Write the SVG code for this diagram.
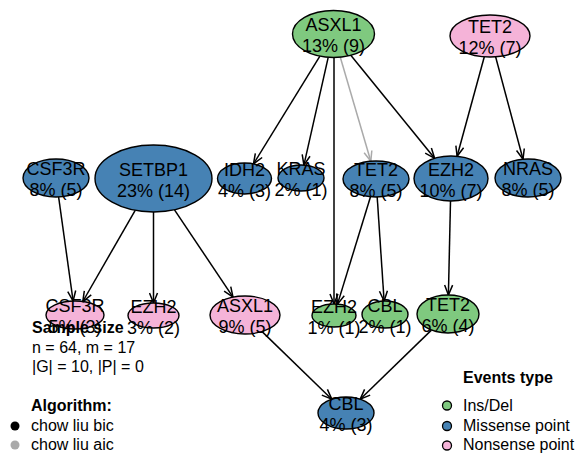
<svg xmlns="http://www.w3.org/2000/svg" width="577" height="455" viewBox="0 0 577 455">
<style>
.n ellipse{stroke:#000;stroke-width:1.4}
.g{fill:#7FC97F}.b{fill:#4682B4}.p{fill:#F5B3D8}
.n text{font-family:"Liberation Sans",Arial,sans-serif;font-size:18px;fill:#000;text-anchor:middle}
.e line{stroke:#000;stroke-width:1.5;fill:none;marker-end:url(#ab)}
.e line.gr{stroke:#AAAAAA;marker-end:url(#ag)}
.lg text{font-family:"Liberation Sans",Arial,sans-serif;font-size:16px;fill:#000}
.lg .t{font-weight:bold}
</style>
<defs>
<marker id="ab" viewBox="0 0 12 10" refX="11" refY="5" markerWidth="12" markerHeight="10" markerUnits="userSpaceOnUse" orient="auto"><path d="M1,1 L11,5 L1,9" fill="none" stroke="#000" stroke-width="1.5"/></marker>
<marker id="ag" viewBox="0 0 12 10" refX="11" refY="5" markerWidth="12" markerHeight="10" markerUnits="userSpaceOnUse" orient="auto"><path d="M1,1 L11,5 L1,9" fill="none" stroke="#AAAAAA" stroke-width="1.5"/></marker>
</defs>
<rect width="577" height="455" fill="#fff"/>
<g id="edges" class="e">
<line x1="319.9" y1="56.2" x2="253.5" y2="163.9"/>
<line x1="328.2" y1="57.3" x2="303.9" y2="165.1"/>
<line x1="334" y1="57.5" x2="334" y2="304"/>
<line class="gr" x1="340.3" y1="57.2" x2="370.8" y2="161.2"/>
<line x1="350.8" y1="55.3" x2="434.6" y2="158.3"/>
<line x1="484.3" y1="56.8" x2="457.1" y2="156.3"/>
<line x1="495.6" y1="56.8" x2="523" y2="159.2"/>
<line x1="58.6" y1="196.9" x2="73.1" y2="301"/>
<line x1="135.2" y1="210.3" x2="82.8" y2="301.5"/>
<line x1="153.5" y1="212" x2="153.5" y2="303"/>
<line x1="174.5" y1="209.8" x2="233" y2="297.1"/>
<line x1="370.5" y1="196.8" x2="337.5" y2="304.1"/>
<line x1="377.2" y1="197" x2="384.1" y2="301"/>
<line x1="450.5" y1="201" x2="448.4" y2="295"/>
<line x1="262.1" y1="331.6" x2="331.8" y2="399.2"/>
<line x1="431.4" y1="330.1" x2="360.2" y2="399.2"/>
</g>
<g id="ASXL1_top" class="n"><ellipse class="g" cx="333.5" cy="34" rx="41" ry="23.5"/><text x="333.5" y="31">ASXL1</text><text x="333.5" y="52">13% (9)</text></g>
<g id="TET2_top" class="n"><ellipse class="p" cx="490" cy="36" rx="40" ry="21"/><text x="490" y="33">TET2</text><text x="490" y="54">12% (7)</text></g>
<g id="CSF3R_mis" class="n"><ellipse class="b" cx="56" cy="178" rx="33" ry="19"/><text x="56" y="175">CSF3R</text><text x="56" y="196">8% (5)</text></g>
<g id="SETBP1" class="n"><ellipse class="b" cx="153.5" cy="178.5" rx="58.5" ry="33.5"/><text x="153.5" y="175.5">SETBP1</text><text x="153.5" y="196.5">23% (14)</text></g>
<g id="IDH2" class="n"><ellipse class="b" cx="244.5" cy="178.5" rx="27" ry="15.5"/><text x="244.5" y="175.5">IDH2</text><text x="244.5" y="196.5">4% (3)</text></g>
<g id="KRAS" class="n"><ellipse class="b" cx="301" cy="178" rx="23" ry="13"/><text x="301" y="175">KRAS</text><text x="301" y="196">2% (1)</text></g>
<g id="TET2_mis" class="n"><ellipse class="b" cx="376" cy="179" rx="33" ry="18"/><text x="376" y="176">TET2</text><text x="376" y="197">8% (5)</text></g>
<g id="EZH2_mis" class="n"><ellipse class="b" cx="451" cy="178.5" rx="37" ry="22.5"/><text x="451" y="175.5">EZH2</text><text x="451" y="196.5">10% (7)</text></g>
<g id="NRAS" class="n"><ellipse class="b" cx="528" cy="178" rx="33" ry="19"/><text x="528" y="175">NRAS</text><text x="528" y="196">8% (5)</text></g>
<g id="CSF3R_non" class="n"><ellipse class="p" cx="75" cy="315" rx="29" ry="14"/><text x="75" y="312">CSF3R</text><text x="75" y="333">5% (3)</text></g>
<g id="EZH2_non" class="n"><ellipse class="p" cx="153.5" cy="315.5" rx="25.5" ry="12.5"/><text x="153.5" y="312.5">EZH2</text><text x="153.5" y="333.5">3% (2)</text></g>
<g id="ASXL1_non" class="n"><ellipse class="p" cx="245" cy="315" rx="35" ry="19"/><text x="245" y="312">ASXL1</text><text x="245" y="333">9% (5)</text></g>
<g id="EZH2_ins" class="n"><ellipse class="g" cx="334" cy="315.5" rx="22" ry="11.5"/><text x="334" y="312.5">EZH2</text><text x="334" y="333.5">1% (1)</text></g>
<g id="CBL_ins" class="n"><ellipse class="g" cx="385" cy="314.5" rx="23" ry="13.5"/><text x="385" y="311.5">CBL</text><text x="385" y="332.5">2% (1)</text></g>
<g id="TET2_ins" class="n"><ellipse class="g" cx="448" cy="314" rx="31" ry="19"/><text x="448" y="311">TET2</text><text x="448" y="332">6% (4)</text></g>
<g id="CBL_mis" class="n"><ellipse class="b" cx="346" cy="413" rx="28" ry="16"/><text x="346" y="410">CBL</text><text x="346" y="431">4% (3)</text></g>
<g id="legend_left" class="lg">
<text class="t" x="32" y="333">Sample size</text>
<text x="32" y="353">n = 64, m = 17</text>
<text x="32" y="372">|G| = 10, |P| = 0</text>
<text class="t" x="31" y="411">Algorithm:</text>
<circle cx="15" cy="426" r="4.5" fill="#000"/>
<text x="31" y="431">chow liu bic</text>
<circle cx="15" cy="445" r="4.5" fill="#AAAAAA"/>
<text x="31" y="450">chow liu aic</text>
</g>
<g id="legend_right" class="lg">
<text class="t" x="463" y="383">Events type</text>
<circle cx="447" cy="405.5" r="4.5" fill="#7FC97F" stroke="#000" stroke-width="1.3"/>
<text x="463" y="411">Ins/Del</text>
<circle cx="447" cy="426" r="4.5" fill="#4682B4" stroke="#000" stroke-width="1.3"/>
<text x="463" y="431">Missense point</text>
<circle cx="447" cy="445.5" r="4.5" fill="#F5B3D8" stroke="#000" stroke-width="1.3"/>
<text x="463" y="450">Nonsense point</text>
</g>
</svg>
